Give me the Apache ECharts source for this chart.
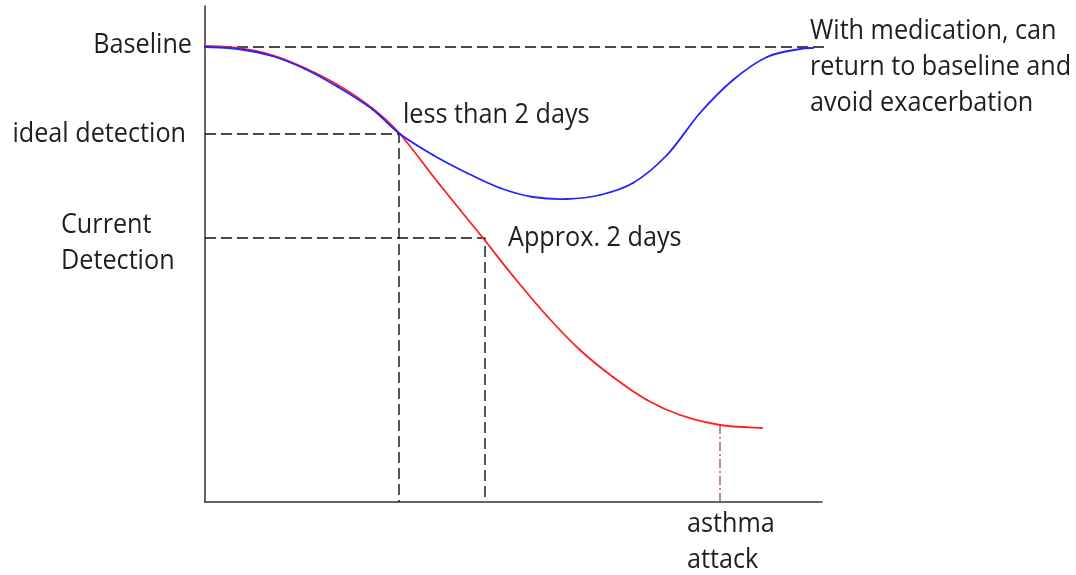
<!DOCTYPE html>
<html>
<head>
<meta charset="utf-8">
<script src="https://cdn.jsdelivr.net/npm/echarts@6/dist/echarts.min.js"></script>
<style>
html,body{margin:0;padding:0;background:#fff;}
#chart{width:1076px;height:575px;}
</style>
</head>
<body>
<div id="chart"></div>
<script>
// Axis extents (arbitrary units)
const xMax = 617;
const yMax = 496;

// Level values
const baselineLevel = 455;
const idealLevel = 368;
const currentLevel = 264;

// Time points
const idealTime = 194;
const currentTime = 280;
const attackTime = 515;
const baselineLineEnd = 652;

// Curves: [x, y]
const exacerbation = [[0,456],[33,454],[67,447],[100,434],[133,417],[167,394],[195,368],[235,317],[278,264],[308,226],[342,186],[375,152],[408,125],[442,102],[475,87],[515,77],[557,74]];
const withMedication = [[0,455],[33,453],[67,446],[100,433],[133,415],[167,393],[195,368],[228,347],[262,329],[295,314],[328,305],[362,303],[395,307],[428,319],[462,347],[495,389],[528,422],[562,445],[595,453],[608,454]];
const attackLevel = 77;

// Text labels
const levelLabels = { baseline: 'Baseline', ideal: 'ideal detection', current: 'Current\nDetection' };
const noteLabels = { less: 'less than 2 days', approx: 'Approx. 2 days', med: 'With medication, can\nreturn to baseline and\navoid exacerbation', attack: 'asthma\nattack' };

const chart = echarts.init(document.getElementById('chart'), null, {renderer:'canvas'});

const dashStyle = {color:'#111', width:1.4, type:[11,5]};
function seg(data, style){
  return {type:'line', data:data, symbol:'none', clip:false, silent:true, z:1,
    lineStyle:style, animation:false};
}

// Smooth curve through the data points (Catmull-Rom segments in pixel space via the axes)
function spline(points, color, z){
  return {
    type:'custom', data:points, z:z, silent:true, animation:false,
    encode:{x:0, y:1},
    renderItem:function(params, api){
      const i = params.dataIndex;
      const n = points.length;
      if (i >= n - 1) return {type:'group', children:[]};
      const P = function(k){ return api.coord(points[Math.max(0, Math.min(n - 1, k))]); };
      const p0 = P(i - 1), p1 = P(i), p2 = P(i + 1), p3 = P(i + 2);
      const t = 1 / 6;
      return {
        type:'bezierCurve',
        shape:{
          x1:p1[0], y1:p1[1], x2:p2[0], y2:p2[1],
          cpx1:p1[0] + (p2[0] - p0[0]) * t, cpy1:p1[1] + (p2[1] - p0[1]) * t,
          cpx2:p2[0] - (p3[0] - p1[0]) * t, cpy2:p2[1] - (p3[1] - p1[1]) * t
        },
        style:{stroke:color, lineWidth:1.8, fill:null, lineCap:'round'}
      };
    }
  };
}

const FONT = '"Open Sans", "Noto Sans", sans-serif';
function txt(text, x, y, align){
  return {type:'text', x:x, y:y, scaleX:0.9, scaleY:1, silent:true,
    style:{text:text, fill:'#1e1e1e', font:'28px ' + FONT, fontSize:28, fontFamily:FONT,
      align:align, verticalAlign:'middle', lineHeight:36}};
}

chart.setOption({
  animation:false,
  backgroundColor:'#fff',
  grid:{left:205, top:6, width:617, height:496},
  xAxis:{type:'value', min:0, max:xMax, axisLine:{show:true, lineStyle:{color:'#333', width:1.5}},
    axisTick:{show:false}, axisLabel:{show:false}, splitLine:{show:false}},
  yAxis:{type:'value', min:0, max:yMax, axisLine:{show:true, lineStyle:{color:'#333', width:1.5}},
    axisTick:{show:false}, axisLabel:{show:false}, splitLine:{show:false}},
  series:[
    seg([[0,baselineLevel],[baselineLineEnd,baselineLevel]], dashStyle),
    seg([[0,idealLevel],[idealTime,idealLevel],[idealTime,0]], dashStyle),
    seg([[0,currentLevel],[currentTime,currentLevel],[currentTime,0]], dashStyle),
    seg([[attackTime,attackLevel],[attackTime,0]], {color:'#b04a4a', width:1.3, type:[9,3,2,3]}),
    spline(exacerbation, '#ff2020', 3),
    spline(withMedication, '#2424ff', 4)
  ],
  graphic:[
    txt(levelLabels.baseline, 192, 45, 'right'),
    txt(levelLabels.ideal, 186, 134, 'right'),
    txt(levelLabels.current, 61, 243, 'left'),
    txt(noteLabels.less, 403, 115, 'left'),
    txt(noteLabels.approx, 508, 238, 'left'),
    txt(noteLabels.med, 810, 67, 'left'),
    txt(noteLabels.attack, 687, 542, 'left')
  ]
});
</script>
</body>
</html>
